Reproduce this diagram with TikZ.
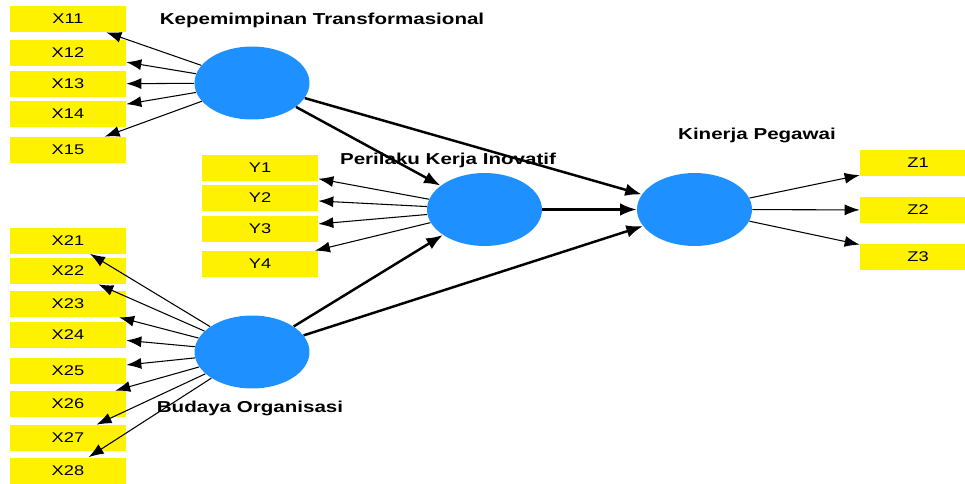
\documentclass[tikz,border=0pt]{standalone}
\usepackage{fontspec}
\setmainfont{Liberation Sans}[FakeStretch=1.3]
\usetikzlibrary{shapes.geometric,arrows.meta}
\definecolor{latentblue}{RGB}{30,144,255}
\tikzset{
  indicator/.style={rectangle, fill=yellow, minimum width=2.32cm, minimum height=0.52cm,
    inner sep=0pt, font=\fontsize{8}{9}\selectfont},
  latent/.style={ellipse, fill=latentblue, minimum width=2.3cm, minimum height=1.46cm, inner sep=0pt},
  lvname/.style={font=\bfseries\fontsize{9}{10}\selectfont},
  loading/.style={-{Latex[length=3mm,width=2.2mm]}, line width=0.6pt},
  structural/.style={-{Latex[length=3.3mm,width=2.5mm]}, line width=1.4pt}
}
\begin{document}
\begin{tikzpicture}[x=0.02cm, y=-0.02cm]
    \clip (0,0) rectangle (965,484);
    \node[latent] (kt) at (252,83) {};
    \node[latent] (bo) at (252,352) {};
    \node[latent] (pki) at (484.5,209.5) {};
    \node[latent] (kp) at (694.5,209.5) {};
    \node[lvname] (ktname) at (322,20) {Kepemimpinan Transformasional};
    \node[lvname] (boname) at (250,408) {Budaya Organisasi};
    \node[lvname] (pkiname) at (448,160) {Perilaku Kerja Inovatif};
    \node[lvname] (kpname) at (757,135) {Kinerja Pegawai};
    \foreach \n/\y in {11/19, 12/52.5, 13/84, 14/114, 15/150}
        \node[indicator] (x\n) at (68,\y) {X\n};
    \foreach \n/\y in {21/240.5, 22/271, 23/304, 24/335, 25/371, 26/404, 27/438, 28/470.5}
        \node[indicator] (x\n) at (68,\y) {X\n};
    \foreach \n/\y in {1/168, 2/198, 3/229, 4/264}
        \node[indicator] (y\n) at (260,\y) {Y\n};
    \foreach \n/\y in {1/163, 2/210, 3/257}
        \node[indicator] (z\n) at (918,\y) {Z\n};
    \foreach \n in {11,...,15}
        \draw[loading] (kt) -- (x\n);
    \foreach \n in {21,...,28}
        \draw[loading] (bo) -- (x\n);
    \foreach \n in {1,...,4}
        \draw[loading] (pki) -- (y\n);
    \foreach \n in {1,...,3}
        \draw[loading] (kp) -- (z\n);
    \draw[structural] (kt) -- (pki);
    \draw[structural] (kt) -- (kp);
    \draw[structural] (bo) -- (pki);
    \draw[structural] (bo) -- (kp);
    \draw[structural] (pki) -- (kp);
\end{tikzpicture}
\end{document}
